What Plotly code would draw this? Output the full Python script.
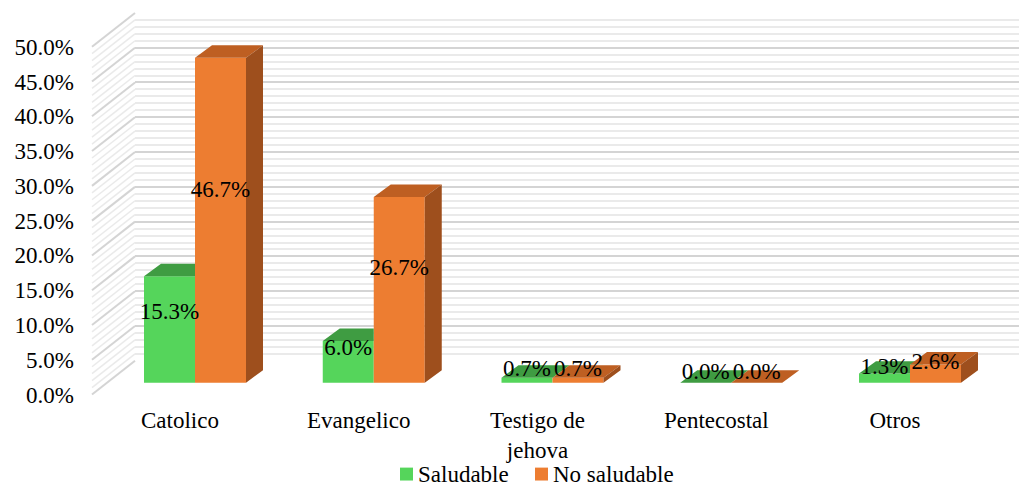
import plotly.graph_objects as go

# ---- data -------------------------------------------------------------
categories = ["Catolico", "Evangelico", "Testigo de<br>jehova", "Pentecostal", "Otros"]
series_names = ["Saludable", "No saludable"]
saludable = [15.3, 6.0, 0.7, 0.0, 1.3]
no_saludable = [46.7, 26.7, 0.7, 0.0, 2.6]
y_ticks = [0, 5, 10, 15, 20, 25, 30, 35, 40, 45, 50]

# ---- canvas geometry (pixels) ------------------------------------------
W, H = 1019, 488
LEFT = 75                 # left edge of the plotting area
CAT0, STEP = 195, 178.75  # first category centre, distance between categories
BASE, PX_PCT = 385, 7.0   # zero line of the bar plane, pixels per 1 %
BAR_PX = 51               # width of one bar
BAR_DX, BAR_DY = 17, 12.5     # bar depth (oblique offset)
FRONT_DX, FRONT_DY = -15, -12  # floor front edge relative to bar plane
BACK_DX, BACK_DY = 28, 22      # back wall relative to bar plane
FRONT_LEFT = 92           # x of the floor's front-left corner
AXIS_PX = 407             # where the category labels hang from
LEGEND_Y, LEGEND_X = 477, 400  # legend row centre line and first key
VMAX = 50

GREEN, GREEN_TOP = "#55D55B", "#3F9C42"
ORANGE, ORANGE_TOP, ORANGE_SIDE = "#ED7D31", "#BE5F22", "#9E4F1D"
GRID_MAJOR, GRID_MINOR = "#D4D4D4", "#EAEAEA"
FONT = "Liberation Serif"
FS = 23

ux = lambda px: px / STEP      # pixel distance -> category units
uv = lambda px: px / PX_PCT    # pixel distance -> percent units

bw = ux(BAR_PX)
ddx, ddv = ux(BAR_DX), uv(BAR_DY)
wall_left_px = FRONT_LEFT + BACK_DX - FRONT_DX

fig = go.Figure()

# back wall subplot (its gridlines are the horizontal lines)
fig.add_trace(go.Scatter(x=[None], y=[None], xaxis="x", yaxis="y",
                         showlegend=False, hoverinfo="skip"))

# ---- left side wall: oblique lines from floor front edge to back wall ----
for major in (False, True):
    xs, ys = [], []
    for v in range(0, VMAX + 1):
        if (v % 5 == 0) != major:
            continue
        xs += [ux(FRONT_LEFT - CAT0), ux(wall_left_px - CAT0), None]
        ys += [v + uv(FRONT_DY), v + uv(BACK_DY), None]
    fig.add_trace(go.Scatter(
        x=xs, y=ys, mode="lines", xaxis="x2", yaxis="y2",
        line=dict(color=GRID_MAJOR if major else GRID_MINOR,
                  width=2 if major else 1.5),
        hoverinfo="skip", showlegend=False))

# ---- bar front faces ------------------------------------------------------
pos = list(range(len(categories)))
fig.add_trace(go.Bar(x=pos, y=saludable, name=series_names[0], width=bw, offset=-bw,
                     marker=dict(color=GREEN, line=dict(width=0)),
                     xaxis="x2", yaxis="y2", showlegend=False))
fig.add_trace(go.Bar(x=pos, y=no_saludable, name=series_names[1], width=bw, offset=0,
                     marker=dict(color=ORANGE, line=dict(width=0)),
                     xaxis="x2", yaxis="y2", showlegend=False))


def green_top(x0, x1, vg, vo):
    """Top face of the left bar, with the part hidden by the right bar removed."""
    if vo <= vg:
        return [(x0, vg), (x1, vg), (x1 + ddx, vg + ddv), (x0 + ddx, vg + ddv)]
    if vo >= vg + ddv:
        return [(x0, vg), (x1, vg), (x1, vg + ddv), (x0 + ddx, vg + ddv)]
    t = (vo - vg) / ddv
    return [(x0, vg), (x1, vg), (x1, vo), (x1 + ddx * t, vo),
            (x1 + ddx, vg + ddv), (x0 + ddx, vg + ddv)]


def add_polys(polys, color):
    xs, ys = [], []
    for p in polys:
        xs += [q[0] for q in p] + [p[0][0], None]
        ys += [q[1] for q in p] + [p[0][1], None]
    fig.add_trace(go.Scatter(x=xs, y=ys, mode="lines", fill="toself",
                             fillcolor=color, line=dict(width=0, color=color),
                             xaxis="x2", yaxis="y2", hoverinfo="skip",
                             showlegend=False))


g_tops, o_tops, o_sides = [], [], []
for i, (vg, vo) in enumerate(zip(saludable, no_saludable)):
    gx0, gx1 = i - bw, i
    ox0, ox1 = i, i + bw
    g_tops.append(green_top(gx0, gx1, vg, vo))
    o_tops.append([(ox0, vo), (ox1, vo), (ox1 + ddx, vo + ddv), (ox0 + ddx, vo + ddv)])
    o_sides.append([(ox1, 0), (ox1, vo), (ox1 + ddx, vo + ddv), (ox1 + ddx, ddv)])

add_polys(g_tops, GREEN_TOP)
add_polys(o_tops, ORANGE_TOP)
add_polys(o_sides, ORANGE_SIDE)

# ---- value labels -----------------------------------------------------------
def label_y(v):
    return 0.56 * v + 1.4

for vals, shift in ((saludable, -bw / 2), (no_saludable, bw / 2)):
    fig.add_trace(go.Scatter(
        x=[i + shift for i in pos], y=[label_y(v) for v in vals],
        text=[f"{v:.1f}%" for v in vals], mode="text",
        textfont=dict(family=FONT, size=FS, color="black"),
        xaxis="x2", yaxis="y2", hoverinfo="skip", showlegend=False))

# ---- legend row (keys + names) ----------------------------------------------
KEY = 13
key_x = [LEGEND_X, LEGEND_X + 135]
for kx, name, col in zip(key_x, series_names, (GREEN, ORANGE)):
    fig.add_shape(type="rect", xref="paper", yref="paper",
                  x0=(kx - LEFT) / (W - LEFT), x1=(kx + KEY - LEFT) / (W - LEFT),
                  y0=(H - LEGEND_Y - KEY / 2) / H, y1=(H - LEGEND_Y + KEY / 2) / H,
                  fillcolor=col, line=dict(width=0))
    fig.add_annotation(text=name, xref="paper", yref="paper",
                       x=(kx + KEY + 4 - LEFT) / (W - LEFT), xanchor="left",
                       y=(H - LEGEND_Y) / H, yanchor="middle", showarrow=False,
                       borderpad=0,
                       font=dict(family=FONT, size=FS, color="black"))

# ---- axes ------------------------------------------------------------------
plot_w = W - LEFT
back_zero = BASE - BACK_DY
front_zero = BASE - FRONT_DY
front_cat0 = CAT0 + FRONT_DX

fig.update_layout(
    width=W, height=H,
    margin=dict(l=LEFT, r=0, t=0, b=0),
    paper_bgcolor="white", plot_bgcolor="rgba(0,0,0,0)",
    font=dict(family=FONT, size=FS, color="black"),
    showlegend=False,
    # back wall with its own horizontal gridlines
    xaxis=dict(domain=[(wall_left_px - LEFT) / plot_w, 1], range=[0, 1],
               anchor="y", showticklabels=False, ticks="", showline=False,
               showgrid=False, zeroline=False),
    yaxis=dict(domain=[(H - back_zero) / H, (H - (back_zero - VMAX * PX_PCT)) / H],
               range=[0, VMAX], anchor="x", showticklabels=False, ticks="",
               zeroline=False, showline=False,
               showgrid=True, gridcolor=GRID_MAJOR, gridwidth=2,
               tickvals=y_ticks,
               minor=dict(tickvals=[v for v in range(VMAX + 1) if v % 5],
                          showgrid=True, gridcolor=GRID_MINOR, gridwidth=1.5)),
    # bar plane
    xaxis2=dict(domain=[0, 1], range=[(LEFT - CAT0) / STEP, (W - CAT0) / STEP],
                visible=False, anchor="y2"),
    yaxis2=dict(domain=[0, 1], range=[(BASE - H) / PX_PCT, BASE / PX_PCT],
                visible=False, anchor="x2"),
    # front plane: value and category labels
    xaxis3=dict(domain=[0, 1], anchor="y3",
                range=[(LEFT - front_cat0) / STEP, (W - front_cat0) / STEP],
                tickvals=pos, ticktext=categories, ticks="", showline=False,
                showgrid=False, zeroline=False,
                tickfont=dict(family=FONT, size=FS, color="black")),
    yaxis3=dict(domain=[(H - AXIS_PX) / H, 1], anchor="x3",
                range=[(front_zero - AXIS_PX) / PX_PCT, front_zero / PX_PCT],
                tickvals=y_ticks, ticktext=[f"{v:.1f}%" for v in y_ticks],
                ticks="", showline=False, showgrid=False, zeroline=False,
                tickfont=dict(family=FONT, size=FS, color="black")),
)

# keeps the label subplot in place
fig.add_trace(go.Scatter(x=[None], y=[None], xaxis="x3", yaxis="y3",
                         showlegend=False, hoverinfo="skip"))

fig.write_html("out.html")
